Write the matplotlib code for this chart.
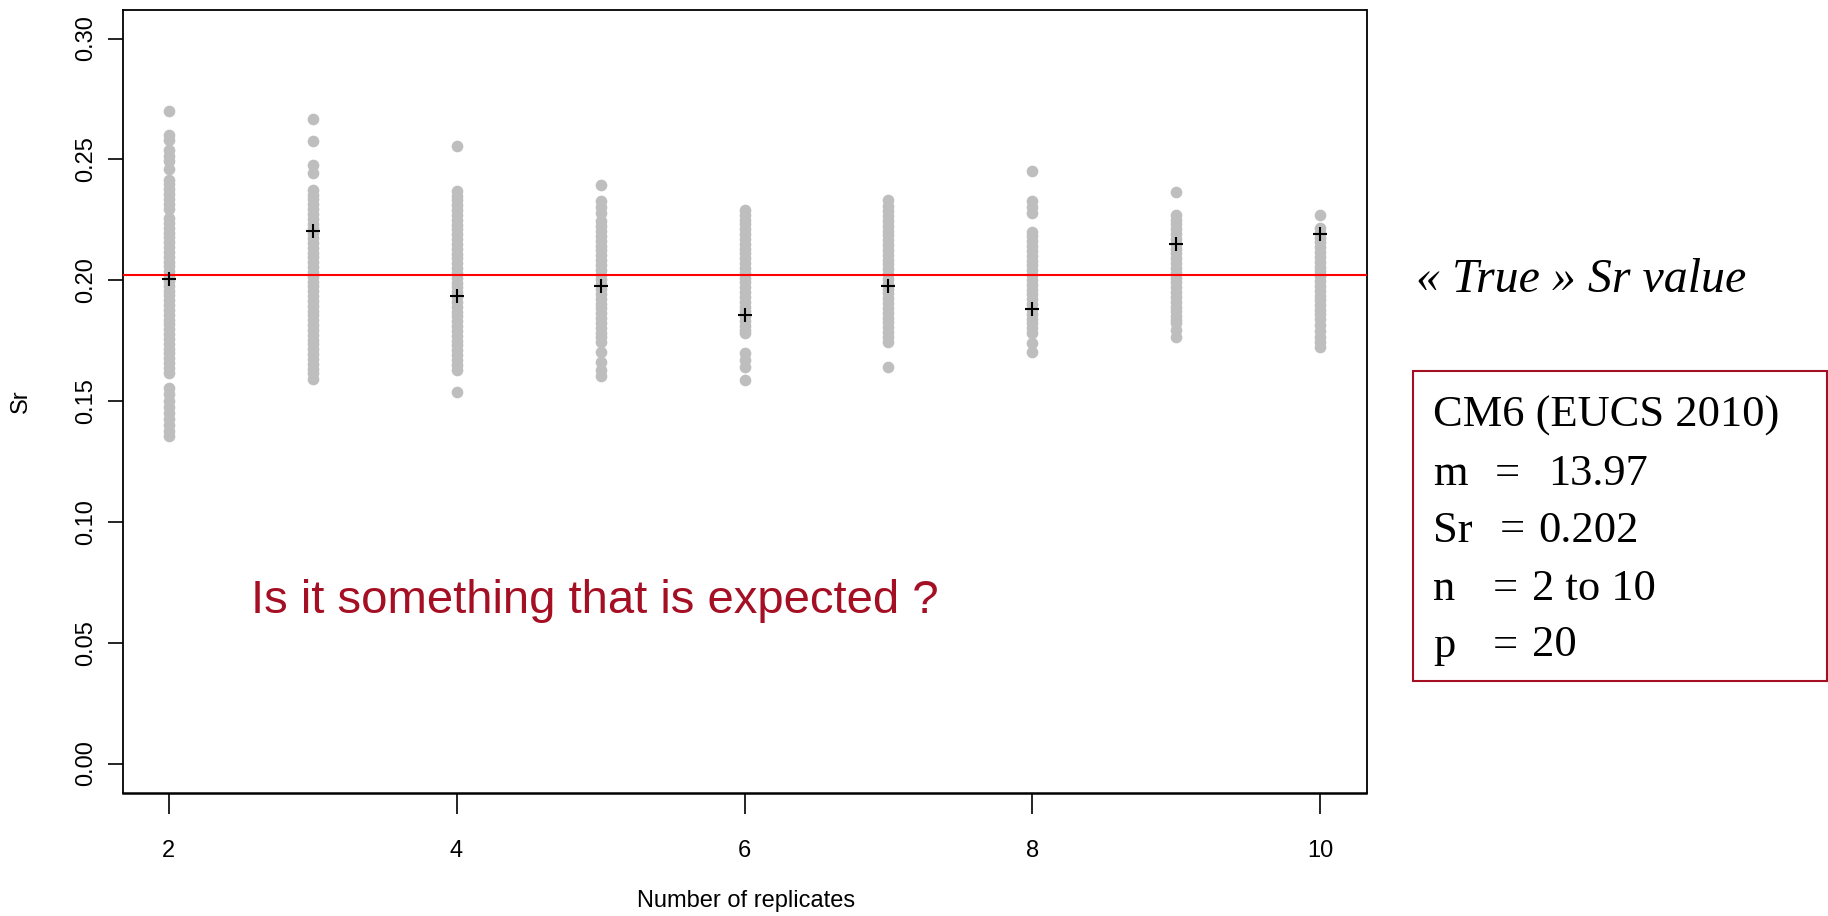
import matplotlib
matplotlib.use("Agg")
import matplotlib.pyplot as plt
from matplotlib.patches import Rectangle

# Simulated repeatability standard deviations for each number of replicates
replicates = [2, 3, 4, 5, 6, 7, 8, 9, 10]

sr_n2 = [0.2700, 0.2600, 0.2580, 0.2540, 0.2515, 0.2492, 0.2460, 0.2416, 0.2396,
         0.2376, 0.2356, 0.2336, 0.2316, 0.2296, 0.2257, 0.2237, 0.2217, 0.2197,
         0.2177, 0.2157, 0.2137, 0.2117, 0.2097, 0.2077, 0.2057, 0.2037, 0.2017,
         0.1997, 0.1977, 0.1957, 0.1937, 0.1917, 0.1897, 0.1877, 0.1857, 0.1837,
         0.1817, 0.1797, 0.1777, 0.1757, 0.1737, 0.1717, 0.1697, 0.1677, 0.1657,
         0.1637, 0.1614, 0.1552, 0.1527, 0.1502, 0.1477, 0.1452, 0.1427, 0.1402,
         0.1377, 0.1355]
sr_n3 = [0.2665, 0.2575, 0.2478, 0.2444, 0.2374, 0.2354, 0.2334, 0.2314, 0.2294,
         0.2274, 0.2254, 0.2234, 0.2214, 0.2194, 0.2174, 0.2154, 0.2134, 0.2114,
         0.2094, 0.2074, 0.2054, 0.2034, 0.2014, 0.1994, 0.1974, 0.1954, 0.1934,
         0.1914, 0.1894, 0.1874, 0.1854, 0.1834, 0.1814, 0.1794, 0.1774, 0.1754,
         0.1734, 0.1714, 0.1694, 0.1674, 0.1654, 0.1634, 0.1614, 0.1590]
sr_n4 = [0.2554, 0.2370, 0.2350, 0.2330, 0.2310, 0.2290, 0.2270, 0.2250, 0.2230,
         0.2210, 0.2190, 0.2170, 0.2150, 0.2130, 0.2110, 0.2090, 0.2070, 0.2050,
         0.2030, 0.2010, 0.1990, 0.1970, 0.1950, 0.1930, 0.1910, 0.1890, 0.1870,
         0.1850, 0.1830, 0.1810, 0.1790, 0.1770, 0.1750, 0.1730, 0.1710, 0.1690,
         0.1670, 0.1650, 0.1628, 0.1538]
sr_n5 = [0.2392, 0.2326, 0.2302, 0.2278, 0.2243, 0.2223, 0.2203, 0.2183, 0.2163,
         0.2143, 0.2123, 0.2103, 0.2083, 0.2063, 0.2043, 0.2023, 0.2003, 0.1983,
         0.1963, 0.1943, 0.1923, 0.1903, 0.1883, 0.1863, 0.1843, 0.1823, 0.1803,
         0.1783, 0.1763, 0.1745, 0.1704, 0.1663, 0.1630, 0.1605]
sr_n6 = [0.2291, 0.2271, 0.2251, 0.2231, 0.2211, 0.2191, 0.2171, 0.2151, 0.2131,
         0.2111, 0.2091, 0.2071, 0.2051, 0.2031, 0.2011, 0.1991, 0.1971, 0.1951,
         0.1931, 0.1911, 0.1891, 0.1871, 0.1851, 0.1831, 0.1811, 0.1795, 0.1780,
         0.1697, 0.1670, 0.1642, 0.1587]
sr_n7 = [0.2333, 0.2305, 0.2285, 0.2265, 0.2245, 0.2225, 0.2205, 0.2185, 0.2165,
         0.2145, 0.2125, 0.2105, 0.2085, 0.2065, 0.2045, 0.2025, 0.2005, 0.1985,
         0.1965, 0.1945, 0.1925, 0.1905, 0.1885, 0.1865, 0.1845, 0.1825, 0.1805,
         0.1785, 0.1765, 0.1745, 0.1642]
sr_n8 = [0.2450, 0.2326, 0.2302, 0.2278, 0.2201, 0.2181, 0.2161, 0.2141, 0.2121,
         0.2101, 0.2081, 0.2061, 0.2041, 0.2021, 0.2001, 0.1981, 0.1961, 0.1941,
         0.1921, 0.1901, 0.1881, 0.1861, 0.1841, 0.1821, 0.1801, 0.1780, 0.1739,
         0.1704]
sr_n9 = [0.2365, 0.2271, 0.2251, 0.2231, 0.2211, 0.2191, 0.2171, 0.2151, 0.2131,
         0.2111, 0.2091, 0.2071, 0.2051, 0.2031, 0.2011, 0.1991, 0.1971, 0.1951,
         0.1931, 0.1911, 0.1891, 0.1871, 0.1851, 0.1836, 0.1822, 0.1795, 0.1766]
sr_n10 = [0.2271, 0.2216, 0.2196, 0.2176, 0.2156, 0.2136, 0.2116, 0.2096, 0.2076,
          0.2056, 0.2036, 0.2016, 0.1996, 0.1976, 0.1956, 0.1936, 0.1916, 0.1896,
          0.1876, 0.1862, 0.1840, 0.1815, 0.1790, 0.1765, 0.1745, 0.1725]

sr_by_n = [sr_n2, sr_n3, sr_n4, sr_n5, sr_n6, sr_n7, sr_n8, sr_n9, sr_n10]
sr_mean = [0.2005, 0.2204, 0.1935, 0.1976, 0.1855, 0.1976, 0.1880, 0.2150, 0.2192]

true_sr = 0.202
x_ticks = [2, 4, 6, 8, 10]
y_ticks = [0.00, 0.05, 0.10, 0.15, 0.20, 0.25, 0.30]

info_labels = ["m", "Sr", "n", "p"]
info_values = ["13.97", "0.202", "2 to 10", "20"]

RED = "#A50F24"
W, H = 1828, 916

plt.rcParams["font.family"] = ["Liberation Sans", "DejaVu Sans"]

fig = plt.figure(figsize=(W / 100, H / 100), dpi=100)
ax = fig.add_axes([122.5 / W, 1 - 792.5 / H, (1366.5 - 122.5) / W, (792.5 - 9.5) / H])

for n, vals in zip(replicates, sr_by_n):
    ax.plot([n] * len(vals), vals, linestyle="none", marker="o", ms=8.4,
            color="#BEBEBE", mec="none", zorder=2)

ax.axhline(true_sr, color="red", lw=1.5, zorder=3)
ax.plot(replicates, sr_mean, linestyle="none", marker="+", ms=10.5, mew=1.5,
        color="black", zorder=4)

ax.set_xlim(2 - 0.32, 10 + 0.32)
ax.set_ylim(-0.012, 0.312)
ax.set_xticks(x_ticks)
ax.set_xticklabels([str(v) for v in x_ticks])
ax.set_yticks(y_ticks)
ax.set_yticklabels([f"{v:.2f}" for v in y_ticks], rotation=90, va="center")
ax.tick_params(axis="x", length=15, width=1.2, pad=19, labelsize=17)
ax.tick_params(axis="y", length=10.5, width=1.2, pad=8, labelsize=17)
for s in ax.spines.values():
    s.set_linewidth(1.3)
ax.spines["bottom"].set_linewidth(1.8)

fig.text(21 / W, 1 - 401 / H, "Sr", rotation=90, ha="center", va="center", fontsize=17)
fig.text(746 / W, 1 - 901 / H, "Number of replicates", ha="center", va="center", fontsize=17)

ax.text(251 / W, 1 - 613 / H, "Is it something that is expected ?",
        transform=fig.transFigure, ha="left", va="baseline", fontsize=34, color=RED)

serif = ["Liberation Serif", "DejaVu Serif"]
fig.text(1416 / W, 1 - 291.5 / H, "\u00ab True \u00bb Sr value", ha="left", va="baseline",
         fontsize=34.5, style="italic", family=serif)

fig.add_artist(Rectangle((1413 / W, 1 - 681 / H), (1826.5 - 1413) / W, (681 - 371) / H,
                         transform=fig.transFigure, fill=False, edgecolor=RED, lw=1.5))

fig.text(1433 / W, 1 - 426.5 / H, "CM6 (EUCS 2010)", ha="left", va="baseline",
         fontsize=32, family=serif)
baselines = [485, 541.5, 600, 656.5]
eq_x = [1495, 1500, 1493, 1493]
val_x = [1548, 1538, 1532, 1532]
for lab, val, yb, ex, vx in zip(info_labels, info_values, baselines, eq_x, val_x):
    fig.text(1433 / W, 1 - yb / H, lab, ha="left", va="baseline", fontsize=32, family=serif)
    fig.text(ex / W, 1 - yb / H, "=", ha="left", va="baseline", fontsize=32, family=serif)
    fig.text(vx / W, 1 - yb / H, val, ha="left", va="baseline", fontsize=32, family=serif)

fig.savefig("out.png", dpi=100)
